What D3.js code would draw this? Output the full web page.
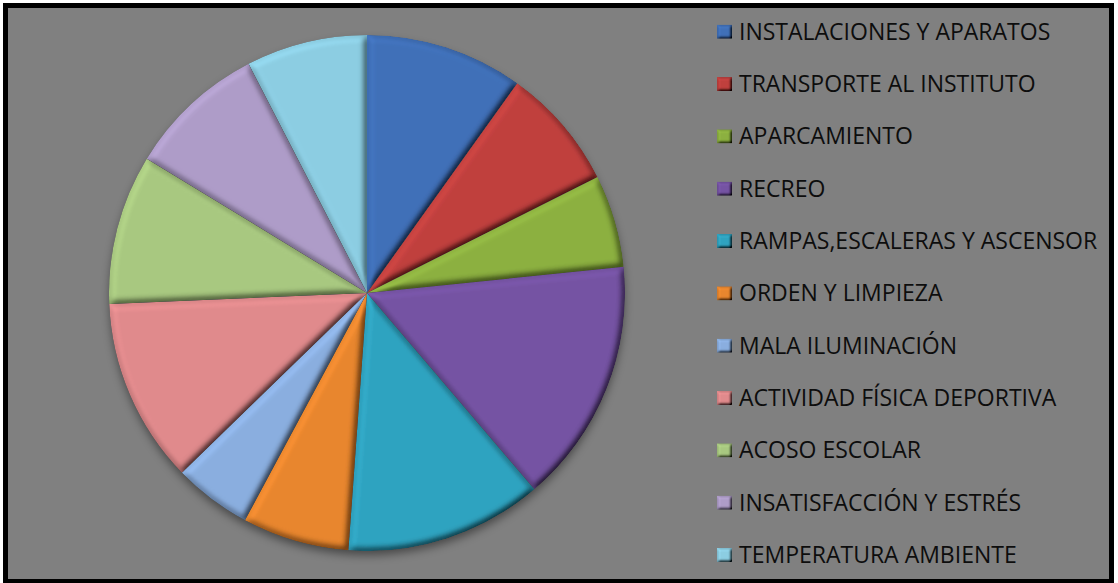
<!DOCTYPE html>
<html>
<head>
<meta charset="utf-8">
<script src="https://cdn.jsdelivr.net/npm/d3@7"></script>
<style>
  body { margin: 0; background: #fff; }
  svg text { font-family: "Open Sans", "Noto Sans", sans-serif; }
</style>
</head>
<body>
<svg id="grafico" width="1118" height="583"></svg>
<script>
"use strict"
// datos (porcentaje aproximado de cada causa)
var categorias = ["INSTALACIONES Y APARATOS", "TRANSPORTE AL INSTITUTO", "APARCAMIENTO", "RECREO",
  "RAMPAS,ESCALERAS Y ASCENSOR", "ORDEN Y LIMPIEZA", "MALA ILUMINACIÓN", "ACTIVIDAD FÍSICA DEPORTIVA",
  "ACOSO ESCOLAR", "INSATISFACCIÓN Y ESTRÉS", "TEMPERATURA AMBIENTE"];
var valores = [9.9, 7.7, 5.8, 15.4, 12.4, 6.7, 4.9, 11.6, 9.4, 8.7, 7.6];
var colores = ["#4070b8", "#c0403e", "#8cb040", "#7553a3", "#2fa3c0", "#e8862e",
  "#8aaedf", "#e08a8c", "#a8c880", "#ae9cc8", "#8ccde2"];

var svg = d3.select("svg#grafico"),
    width = +svg.attr("width"),
    height = +svg.attr("height");

var defs = svg.append("defs");

function bisel(id, blur, escala) {
  var f = defs.append("filter").attr("id", id)
    .attr("x", "-5%").attr("y", "-5%").attr("width", "110%").attr("height", "110%");
  f.append("feGaussianBlur").attr("in", "SourceAlpha").attr("stdDeviation", blur).attr("result", "blur");
  f.append("feDiffuseLighting").attr("in", "blur").attr("surfaceScale", escala)
      .attr("diffuseConstant", 1).attr("lighting-color", "#fff").attr("result", "luz")
    .append("feDistantLight").attr("azimuth", 225).attr("elevation", 60);
  f.append("feComposite").attr("in", "SourceGraphic").attr("in2", "luz")
    .attr("operator", "arithmetic").attr("k1", 1.155).attr("k2", 0).attr("k3", 0).attr("k4", 0)
    .attr("result", "sombreado");
  f.append("feComposite").attr("in", "sombreado").attr("in2", "SourceAlpha").attr("operator", "in");
}
bisel("bisel", 3.5, 6);
bisel("biselMini", 1.5, 4);

var sombra = defs.append("filter").attr("id", "sombra")
  .attr("x", "-10%").attr("y", "-10%").attr("width", "120%").attr("height", "130%");
sombra.append("feDropShadow").attr("dx", 0).attr("dy", 5).attr("stdDeviation", 5)
  .attr("flood-color", "#000").attr("flood-opacity", 0.45);

// fondo y borde
svg.append("rect")
  .attr("x", 5.5).attr("y", 5.5)
  .attr("width", width - 12).attr("height", height - 7)
  .attr("fill", "#808080")
  .attr("stroke", "#000").attr("stroke-width", 5);

var cx = 367, cy = 293, radio = 258;

var pie = d3.pie().sort(null).value(function(d) { return d; });
var arco = d3.arc().innerRadius(0).outerRadius(radio);

var tarta = svg.append("g")
  .attr("transform", "translate(" + cx + "," + cy + ")");

tarta.append("circle").attr("r", radio - 1).attr("fill", "#555").attr("filter", "url(#sombra)");

tarta.selectAll("path.porcion")
  .data(pie(valores))
  .enter().append("path")
    .attr("class", "porcion")
    .attr("d", arco)
    .attr("fill", function(d, i) { return colores[i]; })
    .attr("filter", "url(#bisel)");

// leyenda
var y = d3.scalePoint().domain(categorias).range([31.7, 555]);

var leyenda = svg.append("g").attr("class", "leyenda")
  .selectAll("g")
  .data(categorias)
  .enter().append("g")
    .attr("transform", function(d) { return "translate(717," + y(d) + ")"; });

leyenda.append("rect")
  .attr("x", 0).attr("y", -7)
  .attr("width", 15).attr("height", 14)
  .attr("fill", function(d, i) { return colores[i]; })
  .attr("filter", "url(#biselMini)");

leyenda.append("text")
  .attr("x", 22).attr("y", 8)
  .attr("font-size", 23)
  .attr("fill", "#0d0d0d")
  .text(function(d) { return d; });
</script>
</body>
</html>
